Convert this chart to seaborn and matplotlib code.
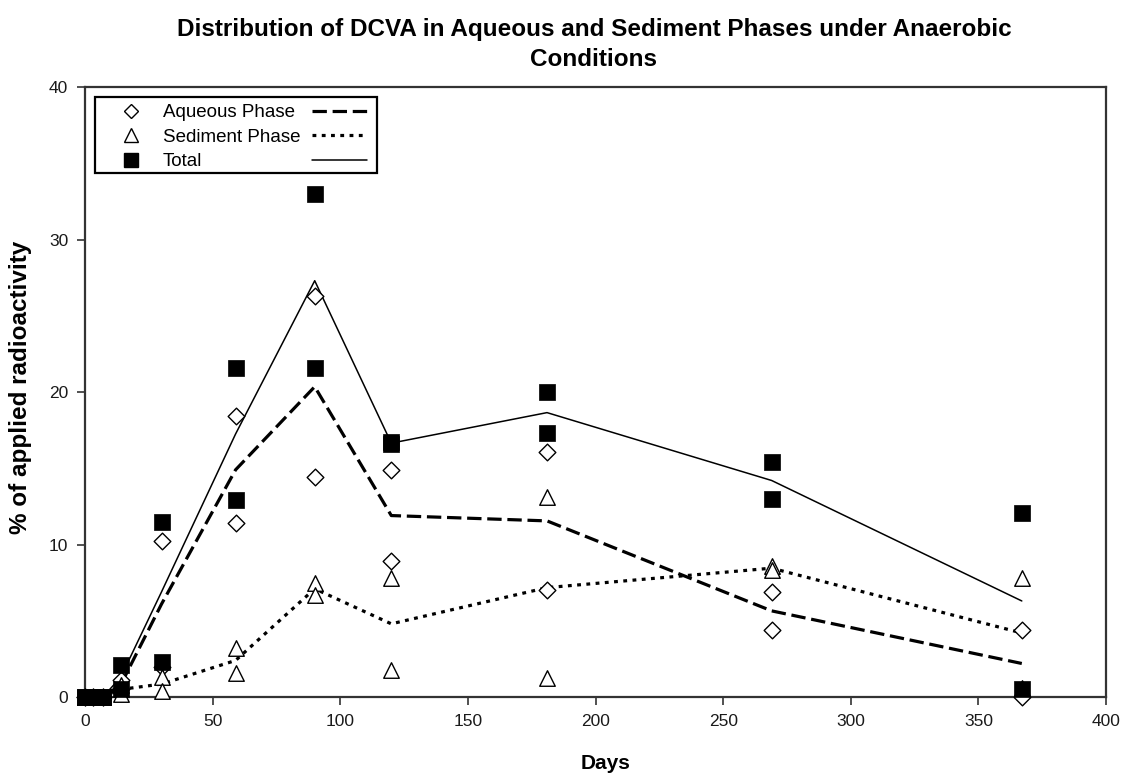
import matplotlib
matplotlib.use("Agg")
import matplotlib.pyplot as plt
import pandas as pd
import seaborn as sns
from matplotlib.lines import Line2D
from matplotlib.patches import Rectangle

# Sampling days and duplicate measurements (% of applied radioactivity)
days = [0, 3, 7, 14, 30, 59, 90, 120, 181, 269, 367]
aqueous_rep1 = [0, 0, 0, 1.1, 10.2, 18.4, 26.3, 14.9, 16.1, 6.9, 4.4]
aqueous_rep2 = [0, 0, 0, 0.5, 2.0, 11.4, 14.4, 8.9, 7.0, 4.4, 0.0]
sediment_rep1 = [0, 0, 0, 0.8, 1.3, 3.2, 7.5, 7.8, 13.1, 8.6, 7.8]
sediment_rep2 = [0, 0, 0, 0.2, 0.4, 1.6, 6.7, 1.8, 1.25, 8.3, 0.6]
total_rep1 = [0, 0, 0, 2.1, 11.5, 21.6, 33.0, 16.7, 20.0, 15.4, 12.1]
total_rep2 = [0, 0, 0, 0.5, 2.3, 12.9, 21.6, 16.6, 17.3, 13.0, 0.5]

phases = ["Aqueous Phase", "Sediment Phase", "Total"]
x_ticks = [0, 50, 100, 150, 200, 250, 300, 350, 400]
y_ticks = [0, 10, 20, 30, 40]

title = "Distribution of DCVA in Aqueous and Sediment Phases under Anaerobic\nConditions"
x_label = "Days"
y_label = "% of applied radioactivity"

series = {
    "Aqueous Phase": (aqueous_rep1, aqueous_rep2),
    "Sediment Phase": (sediment_rep1, sediment_rep2),
    "Total": (total_rep1, total_rep2),
}
rows = []
for phase, reps in series.items():
    for rep_id, values in enumerate(reps, start=1):
        for d, v in zip(days, values):
            rows.append({"day": d, "value": v, "phase": phase, "rep": rep_id})
df = pd.DataFrame(rows)

sns.set_theme(style="ticks")
plt.rcParams["font.family"] = ["Liberation Sans", "DejaVu Sans"]
plt.rcParams["text.color"] = "black"
plt.rcParams["axes.labelcolor"] = "black"

fig = plt.figure(figsize=(11.27, 7.75), dpi=100)
fig.patch.set_facecolor("white")
ax = fig.add_axes([0.0754, 0.1006, 0.906, 0.7871])
ax.set_facecolor("white")

line_styles = {
    "Aqueous Phase": dict(lw=2.3, ls=(0, (4.5, 1.8))),
    "Sediment Phase": dict(lw=2.3, ls=(0, (1.2, 1.7))),
    "Total": dict(lw=1.1, ls="-"),
}
marker_styles = {
    "Aqueous Phase": dict(marker="D", s=72, facecolor="white", edgecolor="black", linewidth=1.0),
    "Sediment Phase": dict(marker="^", s=125, facecolor="white", edgecolor="black", linewidth=1.0),
    "Total": dict(marker="s", s=120, facecolor="black", edgecolor="black", linewidth=0.5),
}

# Mean lines across the duplicates
for phase in phases:
    sub = df[df["phase"] == phase]
    st = line_styles[phase]
    sns.lineplot(data=sub, x="day", y="value", estimator="mean", errorbar=None,
                 color="black", linewidth=st["lw"], linestyle=st["ls"],
                 ax=ax, legend=False, zorder=2)

# Individual replicate points
for phase in phases:
    sub = df[df["phase"] == phase]
    sns.scatterplot(data=sub, x="day", y="value", ax=ax, legend=False,
                    clip_on=False, zorder=3, **marker_styles[phase])

ax.set_xlim(0, 400)
ax.set_ylim(0, 40)
ax.set_xticks(x_ticks)
ax.set_yticks(y_ticks)
ax.set_xticklabels([str(t) for t in x_ticks], fontsize=12.5, color="#1a1a1a")
ax.set_yticklabels([str(t) for t in y_ticks], fontsize=12.5, color="#1a1a1a")
ax.tick_params(direction="out", length=6, width=1.2, color="#333333", pad=6)
for sp in ax.spines.values():
    sp.set_visible(True)
    sp.set_color("#333333")
    sp.set_linewidth(1.6)

ax.set_xlabel(x_label, fontsize=15, fontweight="bold")
ax.set_ylabel(y_label, fontsize=17.5, fontweight="bold")
ax.xaxis.set_label_coords(0.51, -0.093)
ax.yaxis.set_label_coords(-0.052, 0.507)
fig.text(0.527, 0.977, title, ha="center", va="top", fontsize=17.5, fontweight="bold",
         linespacing=1.38)

# Legend: symbol, label, then line sample, inside a single box
def axx(px):
    return (px - 85) / 1021.0

def axy(py):
    return (697 - py) / 610.0

ax.add_patch(Rectangle((axx(95), axy(173)), axx(377) - axx(95), axy(97) - axy(173),
                       transform=ax.transAxes, facecolor="white", edgecolor="black",
                       linewidth=1.6, zorder=5, clip_on=False))

marker_handles = [
    Line2D([], [], marker="D", ls="none", markersize=7.5, markerfacecolor="white",
           markeredgecolor="black", markeredgewidth=1.0),
    Line2D([], [], marker="^", ls="none", markersize=10, markerfacecolor="white",
           markeredgecolor="black", markeredgewidth=1.0),
    Line2D([], [], marker="s", ls="none", markersize=10, markerfacecolor="black",
           markeredgecolor="black"),
]
line_handles = [Line2D([], [], color="black", lw=line_styles[p]["lw"], ls=line_styles[p]["ls"])
                for p in phases]

fs = 13.5
fs_px = fs * 100 / 72
leg1 = ax.legend(marker_handles, phases, loc="upper left",
                 bbox_to_anchor=(axx(102), axy(104)), borderaxespad=0, borderpad=0,
                 frameon=False, handlelength=3.1, handletextpad=0.15,
                 labelspacing=0.4, prop={"size": fs})
leg1.set_zorder(6)
ax.add_artist(leg1)
leg2 = ax.legend(line_handles, [" ", " ", " "], loc="upper left",
                 bbox_to_anchor=(axx(312), axy(104)), borderaxespad=0, borderpad=0,
                 frameon=False, handlelength=55 / fs_px, handletextpad=0,
                 labelspacing=0.4, prop={"size": fs})
leg2.set_zorder(6)

fig.savefig("out.png", dpi=100, facecolor="white")
